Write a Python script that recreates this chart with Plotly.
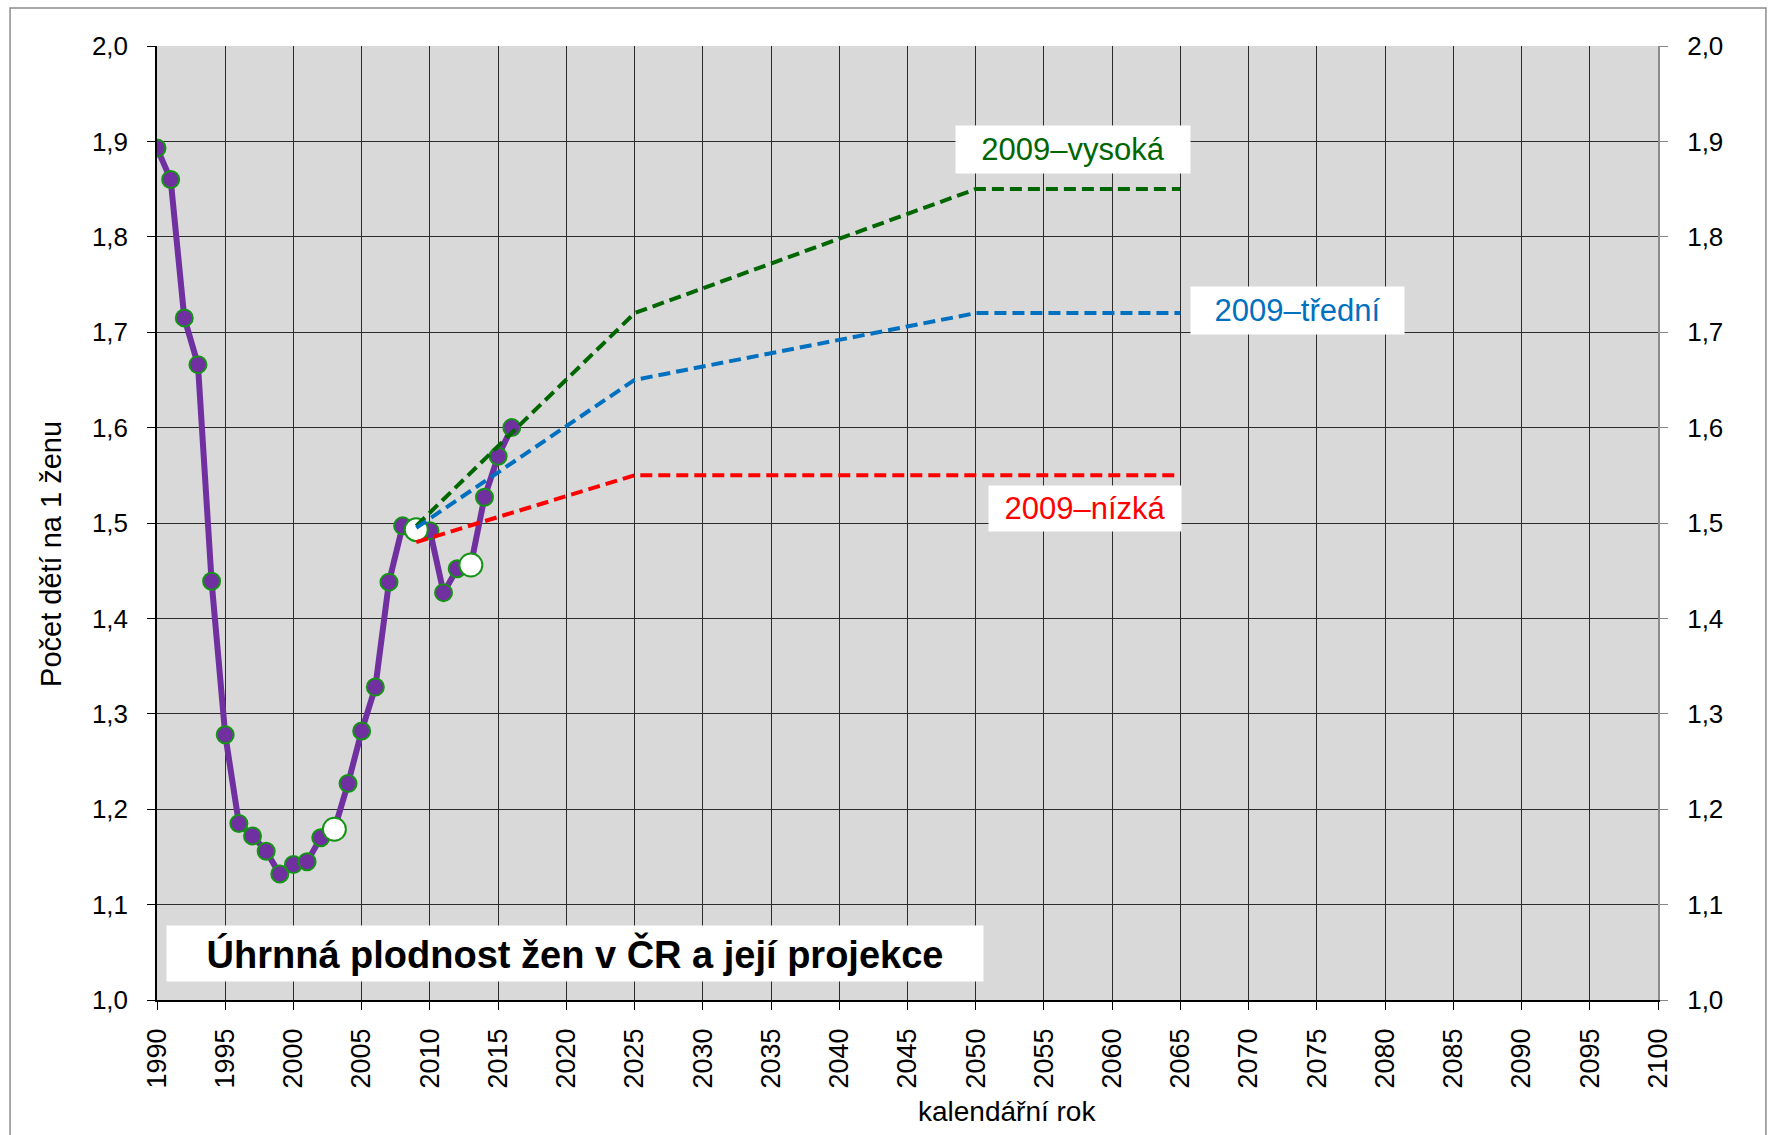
import plotly.graph_objects as go

# ---- data ----
years = list(range(1990, 2017))
tfr = [1.893, 1.860, 1.715, 1.666, 1.439, 1.278, 1.185, 1.172, 1.156, 1.132,
       1.142, 1.145, 1.170, 1.179, 1.227, 1.282, 1.328, 1.438, 1.497, 1.493,
       1.492, 1.427, 1.452, 1.456, 1.527, 1.570, 1.600]
highlight_years = [2003, 2009, 2013]

proj_years = [2009, 2025, 2050, 2065]
proj_high = [1.497, 1.72, 1.85, 1.85]
proj_mid = [1.495, 1.65, 1.72, 1.72]
proj_low = [1.480, 1.55, 1.55, 1.55]

proj_names = ["2009–vysoká", "2009–třední", "2009–nízká"]
x_ticks = list(range(1990, 2101, 5))
y_ticks = [1.0, 1.1, 1.2, 1.3, 1.4, 1.5, 1.6, 1.7, 1.8, 1.9, 2.0]

title_text = "Úhrnná plodnost žen v ČR a její projekce"
x_title = "kalendářní rok"
y_title = "Počet dětí na 1 ženu"

# ---- styles ----
FONT = "Liberation Sans, Arial, sans-serif"
PURPLE = "#7030A0"
MARK_EDGE = "#149414"
GREEN = "#006600"
BLUE = "#0070C0"
RED = "#FF0000"

highlight_vals = [tfr[years.index(y)] for y in highlight_years]

fig = go.Figure()

fig.add_trace(go.Scatter(
    x=years, y=tfr, mode="lines+markers", name="skutečnost",
    line=dict(color=PURPLE, width=6),
    marker=dict(size=17, color=PURPLE, line=dict(color=MARK_EDGE, width=2)),
))
fig.add_trace(go.Scatter(
    x=highlight_years, y=highlight_vals, mode="markers", name="",
    marker=dict(size=23, color="white", line=dict(color=MARK_EDGE, width=2)),
))
for name, vals, col in zip(proj_names, [proj_high, proj_mid, proj_low], [GREEN, BLUE, RED]):
    fig.add_trace(go.Scatter(
        x=proj_years, y=vals, mode="lines", name=name,
        line=dict(color=col, width=4, dash="12px,6px"),
    ))
# invisible trace to anchor right axis
fig.add_trace(go.Scatter(x=[years[0]], y=[tfr[0]], yaxis="y2", mode="markers",
                         marker=dict(opacity=0), hoverinfo="skip", showlegend=False))

fig.update_layout(
    width=1772, height=1135,
    margin=dict(l=157, r=114, t=46, b=135),
    paper_bgcolor="white", plot_bgcolor="#D9D9D9",
    separators=", ",
    showlegend=False,
    font=dict(family=FONT, color="black"),
    xaxis=dict(
        range=[1990, 2100], tickmode="array", tickvals=x_ticks,
        ticktext=[str(v) for v in x_ticks], tickangle=-90,
        tickfont=dict(size=27, family=FONT), ticks="outside", ticklen=8,
        tickcolor="black", showline=True, linecolor="black", linewidth=1.5,
        showgrid=True, gridcolor="#2b2b2b", gridwidth=1.2, zeroline=False,
        ticklabelstandoff=8,
    ),
    yaxis=dict(
        range=[1.0, 2.0], tickmode="array", tickvals=y_ticks, tickformat=".1f",
        tickfont=dict(size=26, family=FONT), ticks="outside", ticklen=8,
        tickcolor="black", showline=True, linecolor="black", linewidth=1.5,
        showgrid=True, gridcolor="#2b2b2b", gridwidth=1.2, zeroline=False,
        ticklabelstandoff=14,
    ),
    yaxis2=dict(
        range=[1.0, 2.0], overlaying="y", side="right", tickmode="array",
        tickvals=y_ticks, tickformat=".1f", tickfont=dict(size=26, family=FONT),
        ticks="outside", ticklen=8, tickcolor="#888888", showline=True,
        linecolor="#8c8c8c", linewidth=2, showgrid=False, zeroline=False,
        ticklabelstandoff=14,
    ),
)

# axis titles (placed as in the reference)
fig.add_annotation(x=0.566, y=-0.1174, xref="paper", yref="paper", text=x_title,
                   showarrow=False, xanchor="center", yanchor="middle",
                   font=dict(size=28, family=FONT, color="black"))
fig.add_annotation(x=-0.071, y=0.468, xref="paper", yref="paper", text=y_title,
                   showarrow=False, textangle=-90, xanchor="center", yanchor="middle",
                   font=dict(size=29, family=FONT, color="black"))

# labels of projections and chart title
fig.add_annotation(x=2057.1, y=1.891, xref="x", yref="y", text=proj_names[0],
                   showarrow=False, bgcolor="white", width=234, height=47, borderpad=0,
                   font=dict(size=31, color=GREEN, family=FONT))
fig.add_annotation(x=2073.6, y=1.7227, xref="x", yref="y", text=proj_names[1],
                   showarrow=False, bgcolor="white", width=213, height=47, borderpad=0,
                   font=dict(size=31, color=BLUE, family=FONT))
fig.add_annotation(x=2058.0, y=1.515, xref="x", yref="y", text=proj_names[2],
                   showarrow=False, bgcolor="white", width=192, height=45, borderpad=0,
                   font=dict(size=31, color=RED, family=FONT))
fig.add_annotation(x=2020.6, y=1.0487, xref="x", yref="y", text="<b>" + title_text + "</b>",
                   showarrow=False, bgcolor="white", width=816, height=55, borderpad=0,
                   font=dict(size=38, color="black", family=FONT))

# outer chart frame
fig.add_shape(type="rect", xref="paper", yref="paper",
              x0=-0.0979, x1=1.0719, y0=-0.2, y1=1.0398,
              line=dict(color="#8c8c8c", width=1.5), layer="below")

fig.write_html("out.html", config={"displayModeBar": False},
               post_script="document.body.style.margin='0';")
